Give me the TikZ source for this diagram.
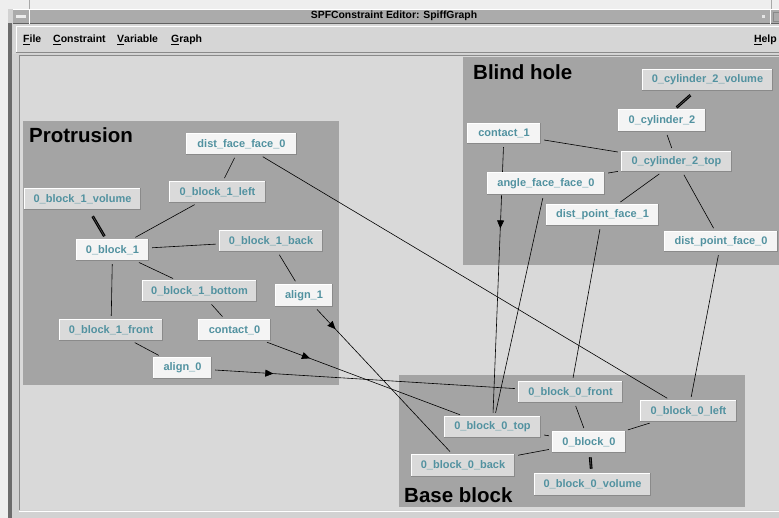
\documentclass[tikz,border=0pt]{standalone}
\usepackage{fontspec}
\setmainfont{Liberation Sans}
\usetikzlibrary{arrows.meta,decorations.markings}
\definecolor{deskbg}{HTML}{EEEEEE}
\definecolor{framedark}{HTML}{6C6C6C}
\definecolor{framegray}{HTML}{D2D2D2}
\definecolor{titlebar}{HTML}{ABABAB}
\definecolor{menubg}{HTML}{D6D6D6}
\definecolor{canvasbg}{HTML}{D9D9D9}
\definecolor{groupbg}{HTML}{A4A4A4}
\definecolor{nodew}{HTML}{F4F4F4}
\definecolor{nodeg}{HTML}{DADADA}
\definecolor{nodetext}{HTML}{5292A0}
\definecolor{bevdark}{HTML}{8A8A8A}
\definecolor{bevlight}{HTML}{FFFFFF}
\pgfdeclarelayer{chrome}
\pgfdeclarelayer{edges}
\pgfsetlayers{chrome,edges,main}
\begin{document}
\begin{tikzpicture}[x=1pt,y=-1pt,
  box/.style={inner sep=0pt, font=\bfseries\fontsize{11}{13}\selectfont, text=nodetext},
  wbox/.style={box, fill=nodew},
  gbox/.style={box, fill=nodeg},
  sz/.style 2 args={minimum width=#1pt, minimum height=#2pt},
  edge/.style={draw=black, line width=0.6pt, shorten <=3pt, shorten >=3pt},
  heavy/.style={draw=black, line width=1.1pt, double=groupbg!50!black, double distance=0.6pt},
  arrowat/.style={postaction={decorate, decoration={markings,
      mark=at position #1 with {\arrow{Triangle[length=8pt,width=7pt]}}}}},
  grouptitle/.style={anchor=base west, inner sep=0pt, font=\bfseries\fontsize{20.5}{24}\selectfont, text=black},
  menuitem/.style={anchor=base west, inner sep=0pt, font=\bfseries\fontsize{10.5}{12}\selectfont, text=black},
]
\useasboundingbox (0,0) rectangle (779,518);

\begin{pgfonlayer}{chrome}
  % desktop and window frame
  \fill[deskbg] (0,0) rectangle (779,518);
  \draw[framegray!80!black, line width=0.8pt] (29,0) -- (29,24);
  \draw[framegray!80!black, line width=0.8pt] (771,0) -- (771,9);
  \fill[framegray] (8,9) rectangle (779,518);
  \fill[framedark] (8,23) rectangle (12,518);
  % title bar
  \fill[titlebar] (13,9) rectangle (779,24);
  \draw[white, line width=0.8pt] (13,9.5) -- (779,9.5);
  \draw[bevdark!70!black, line width=0.8pt] (13,23.5) -- (779,23.5);
  \draw[white, line width=0.8pt] (29,9) -- (29,24);
  \fill[white!85!gray] (16,15) rectangle (26,18);
  \draw[white, line width=0.8pt] (770,9) -- (770,24);
  \fill[white!80!gray] (762,15) rectangle (765,18);
  \draw[bevdark, line width=0.6pt] (773,12) rectangle (782,21);
  \node[inner sep=0pt, font=\bfseries\fontsize{10.4}{12}\selectfont] (wintitle) at (394,16) {SPFConstraint Editor: SpiffGraph};
  % menu bar
  \fill[menubg] (13,24) rectangle (779,54);
  \draw[white, line width=0.8pt] (16,52) -- (16,26) -- (779,26);
  \draw[bevdark, line width=0.8pt] (16,52.5) -- (779,52.5);
  % canvas
  \fill[canvasbg] (19,55) rectangle (779,510);
  \draw[bevdark, line width=1pt] (19.5,510) -- (19.5,55.5) -- (779,55.5);
  \draw[white, line width=1.2pt] (19,511.5) -- (779,511.5);
  % groups
  \fill[groupbg] (23,121) rectangle (339,385);
  \fill[groupbg] (463,57) rectangle (779,265);
  \fill[groupbg] (399,375) rectangle (745,507);
\end{pgfonlayer}

% menu items
\node[menuitem] (mfile) at (23,43) {\underline{F}ile};
\node[menuitem] (mcons) at (53,43) {\underline{C}onstraint};
\node[menuitem] (mvar) at (117,43) {\underline{V}ariable};
\node[menuitem] (mgraph) at (171,43) {\underline{G}raph};
\node[menuitem, anchor=base east] (mhelp) at (777,43) {\underline{H}elp};

% group titles
\node[grouptitle] (tprot) at (29,143) {Protrusion};
\node[grouptitle] (tblind) at (473,80) {Blind hole};
\node[grouptitle] (tbase) at (404,502) {Base block};

% Protrusion nodes
\node[wbox, sz={111}{22}] (dff0) at (241.5,144) {dist\_face\_face\_0};
\node[gbox, sz={97}{22}] (b1left) at (217.5,192) {0\_block\_1\_left};
\node[gbox, sz={117}{22}] (b1vol) at (82.5,199) {0\_block\_1\_volume};
\node[wbox, sz={73}{22}] (b1) at (112.5,250) {0\_block\_1};
\node[gbox, sz={104}{22}] (b1back) at (271,241) {0\_block\_1\_back};
\node[gbox, sz={115}{22}] (b1bot) at (199.5,291) {0\_block\_1\_bottom};
\node[wbox, sz={58}{23}] (align1) at (304,295.5) {align\_1};
\node[gbox, sz={104}{22}] (b1front) at (111,330) {0\_block\_1\_front};
\node[wbox, sz={73}{22}] (contact0) at (234.5,330) {contact\_0};
\node[wbox, sz={59}{22}] (align0) at (182.5,368) {align\_0};

% Blind hole nodes
\node[gbox, sz={131}{22}] (c2vol) at (707.5,80) {0\_cylinder\_2\_volume};
\node[wbox, sz={88}{23}] (c2) at (662,120.5) {0\_cylinder\_2};
\node[wbox, sz={74}{21}] (contact1) at (504,133.5) {contact\_1};
\node[gbox, sz={111}{21}] (c2top) at (676.5,161.5) {0\_cylinder\_2\_top};
\node[wbox, sz={118}{23}] (aff0) at (546,183.5) {angle\_face\_face\_0};
\node[wbox, sz={113}{22}] (dpf1) at (602.5,215) {dist\_point\_face\_1};
\node[wbox, sz={114}{21}] (dpf0) at (721,241.5) {dist\_point\_face\_0};

% Base block nodes
\node[gbox, sz={105}{22}] (b0front) at (570.5,392) {0\_block\_0\_front};
\node[gbox, sz={97}{22}] (b0left) at (688.5,411) {0\_block\_0\_left};
\node[gbox, sz={97}{22}] (b0top) at (492.5,427) {0\_block\_0\_top};
\node[wbox, sz={74}{22}] (b0) at (589,442) {0\_block\_0};
\node[gbox, sz={104}{23}] (b0back) at (463,465.5) {0\_block\_0\_back};
\node[gbox, sz={117}{23}] (b0vol) at (592.5,484.5) {0\_block\_0\_volume};

% bevelled borders
\foreach \n in {dff0,b1left,b1vol,b1,b1back,b1bot,align1,b1front,contact0,align0,
                c2vol,c2,contact1,c2top,aff0,dpf1,dpf0,
                b0front,b0left,b0top,b0,b0back,b0vol}{
  \draw[bevlight, line width=1pt] ([shift={(0.5,-0.5)}]\n.south west) -- ([shift={(0.5,0.5)}]\n.north west) -- ([shift={(-0.5,0.5)}]\n.north east);
  \draw[bevdark, line width=1pt] ([shift={(-0.5,0.5)}]\n.north east) -- ([shift={(-0.5,-0.5)}]\n.south east) -- ([shift={(0.5,-0.5)}]\n.south west);
}

\begin{pgfonlayer}{edges}
  \draw[edge] (dff0) -- (b1left);
  \draw[edge] (dff0) -- (b0left);
  \draw[heavy, shorten <=7pt, shorten >=3pt] (b1vol) -- (b1);
  \draw[edge] (b1left) -- (b1);
  \draw[edge] (b1) -- (b1back);
  \draw[edge] (b1) -- (b1bot);
  \draw[edge] (b1) -- (b1front);
  \draw[edge] (b1back) -- (align1);
  \draw[edge] (b1bot) -- (contact0);
  \draw[edge] (b1front) -- (align0);
  \draw[edge, arrowat=0.15] (align1) -- (b0back);
  \draw[edge, arrowat=0.23] (contact0) -- (b0top);
  \draw[edge, arrowat=0.2] (align0) -- (b0front);
  \draw[heavy, shorten <=6pt, shorten >=2pt] (c2vol) -- (c2);
  \draw[edge] (c2) -- (c2top);
  \draw[edge] (contact1) -- (c2top);
  \draw[edge, arrowat=0.31] (contact1) -- (b0top);
  \draw[edge] (aff0) -- (b0top);
  \draw[edge] (c2top) -- (aff0);
  \draw[edge] (c2top) -- (dpf1);
  \draw[edge] (c2top) -- (dpf0);
  \draw[edge] (dpf1) -- (b0front);
  \draw[edge] (dpf0) -- (b0left);
  \draw[edge] (b0front) -- (b0);
  \draw[edge] (b0top) -- (b0);
  \draw[edge] (b0left) -- (b0);
  \draw[edge] (b0back) -- (b0);
  \draw[heavy, shorten <=4pt, shorten >=4pt] (b0) -- (b0vol);
\end{pgfonlayer}
\end{tikzpicture}
\end{document}
